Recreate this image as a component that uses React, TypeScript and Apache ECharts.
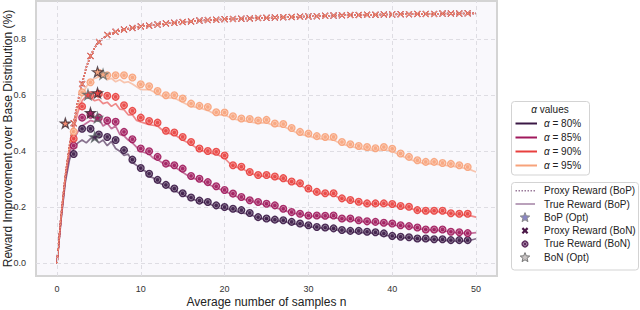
import React, { useEffect, useRef } from "react";
import * as echarts from "echarts";

const alphaNames = ["α = 80%", "α = 85%", "α = 90%", "α = 95%"];
const alphaColors = ["#3a1845", "#a0195c", "#e8403e", "#f7a27a"];

// n values for Best-of-N markers
const bonN = [
  2, 3, 4, 5, 6, 7, 8, 9, 10, 11,
  12, 13, 14, 15, 16, 17, 18, 19, 20, 21,
  22, 23, 24, 25, 26, 27, 28, 29, 30, 31,
  32, 33, 34, 35, 36, 37, 38, 39, 40, 41,
  42, 43, 44, 45, 46, 47, 48, 49,
];

// Proxy reward (BoN), shared by all alphas
const proxyBoN = [
  0.50, 0.64, 0.74, 0.79, 0.815, 0.826, 0.834, 0.84, 0.845, 0.848,
  0.852, 0.856, 0.858, 0.861, 0.863, 0.866, 0.868, 0.869, 0.871, 0.872,
  0.873, 0.874, 0.875, 0.876, 0.877, 0.878, 0.879, 0.88, 0.881, 0.882,
  0.883, 0.884, 0.885, 0.886, 0.886, 0.887, 0.887, 0.888, 0.888, 0.889,
  0.889, 0.89, 0.89, 0.89, 0.891, 0.891, 0.891, 0.892,
];

// Proxy reward (BoP) line [n, value]
const proxyBoP = [
  [0, 0], [0.5, 0.17], [1, 0.31], [1.5, 0.42], [2, 0.5], [2.5, 0.58], [3, 0.64], [3.5, 0.7], [4, 0.74], [4.5, 0.77],
  [5, 0.79], [6, 0.815], [7, 0.826], [8, 0.834], [9, 0.84], [10, 0.845], [11, 0.848], [12, 0.852], [13, 0.856], [14, 0.858],
  [15, 0.861], [16, 0.863], [17, 0.866], [18, 0.868], [19, 0.869], [20, 0.871], [21, 0.872], [22, 0.873], [23, 0.874], [24, 0.875],
  [25, 0.876], [26, 0.877], [27, 0.878], [28, 0.879], [29, 0.88], [30, 0.881], [31, 0.882], [32, 0.883], [33, 0.884], [34, 0.885],
  [35, 0.886], [36, 0.886], [37, 0.887], [38, 0.887], [39, 0.888], [40, 0.888], [41, 0.889], [42, 0.889], [43, 0.89], [44, 0.89],
  [45, 0.89], [46, 0.891], [47, 0.891], [48, 0.891], [49, 0.892], [50, 0.892],
];

// True reward (BoN) per alpha, at bonN
const trueBoN80 = [
  0.39, 0.48, 0.48, 0.46, 0.451, 0.44, 0.404, 0.37, 0.34, 0.32,
  0.298, 0.28, 0.267, 0.25, 0.235, 0.224, 0.219, 0.207, 0.201, 0.195,
  0.19, 0.18, 0.165, 0.16, 0.156, 0.154, 0.148, 0.142, 0.136, 0.13,
  0.128, 0.125, 0.119, 0.116, 0.116, 0.113, 0.111, 0.107, 0.098, 0.095,
  0.093, 0.089, 0.089, 0.086, 0.086, 0.083, 0.083, 0.083,
];
const trueBoN85 = [
  0.42, 0.52, 0.53, 0.52, 0.51, 0.505, 0.469, 0.443, 0.41, 0.40,
  0.38, 0.356, 0.35, 0.338, 0.312, 0.302, 0.29, 0.275, 0.262, 0.249,
  0.237, 0.225, 0.219, 0.213, 0.207, 0.195, 0.183, 0.177, 0.171, 0.171,
  0.17, 0.171, 0.16, 0.16, 0.154, 0.15, 0.148, 0.145, 0.142, 0.136,
  0.133, 0.128, 0.121, 0.121, 0.121, 0.113, 0.111, 0.108,
];
const trueBoN90 = [
  0.445, 0.56, 0.60, 0.605, 0.598, 0.594, 0.564, 0.544, 0.52, 0.508,
  0.502, 0.473, 0.467, 0.451, 0.433, 0.41, 0.401, 0.398, 0.385, 0.35,
  0.345, 0.326, 0.315, 0.315, 0.31, 0.304, 0.292, 0.286, 0.267, 0.255,
  0.25, 0.25, 0.232, 0.226, 0.22, 0.214, 0.214, 0.214, 0.212, 0.205,
  0.202, 0.19, 0.188, 0.188, 0.188, 0.179, 0.177, 0.177,
];
const trueBoN95 = [
  0.47, 0.61, 0.646, 0.68, 0.671, 0.671, 0.671, 0.663, 0.639, 0.632,
  0.615, 0.6, 0.6, 0.588, 0.57, 0.562, 0.558, 0.539, 0.538, 0.525,
  0.517, 0.515, 0.51, 0.512, 0.499, 0.497, 0.483, 0.469, 0.463, 0.454,
  0.451, 0.451, 0.433, 0.425, 0.419, 0.415, 0.411, 0.415, 0.409, 0.392,
  0.38, 0.368, 0.362, 0.362, 0.358, 0.355, 0.35, 0.344,
];

// True reward (BoP) lines [n, value]
const trueBoP80 = [
  [0, 0], [0.5, 0.16], [1, 0.29], [1.5, 0.37], [2, 0.41], [2.5, 0.43], [3, 0.44], [3.5, 0.43], [4, 0.445], [4.5, 0.451],
  [5, 0.43], [5.5, 0.44], [6, 0.42], [6.5, 0.435], [7, 0.41], [7.5, 0.4], [8, 0.385], [8.5, 0.39], [9, 0.36], [9.5, 0.35],
  [10, 0.335], [10.5, 0.33], [11, 0.31], [11.5, 0.305], [12, 0.29], [13, 0.275], [14, 0.26], [15, 0.245], [16, 0.232], [17, 0.22],
  [18, 0.215], [19, 0.2], [20, 0.196], [21, 0.19], [22, 0.18], [23, 0.176], [24, 0.16], [25, 0.158], [26, 0.15], [27, 0.152],
  [28, 0.14], [29, 0.14], [30, 0.13], [31, 0.128], [32, 0.124], [33, 0.122], [34, 0.114], [35, 0.113], [36, 0.11], [37, 0.11],
  [38, 0.106], [39, 0.102], [40, 0.096], [41, 0.092], [42, 0.09], [43, 0.087], [44, 0.085], [45, 0.084], [46, 0.082], [47, 0.08],
  [48, 0.079], [49, 0.08], [50, 0.088],
];
const trueBoP85 = [
  [0, 0], [0.5, 0.16], [1, 0.3], [1.5, 0.39], [2, 0.44], [2.5, 0.47], [3, 0.49], [3.5, 0.5], [4, 0.51], [4.5, 0.505],
  [5, 0.52], [5.5, 0.49], [6, 0.5], [6.5, 0.48], [7, 0.49], [7.5, 0.46], [8, 0.455], [8.5, 0.44], [9, 0.43], [9.5, 0.415],
  [10, 0.4], [10.5, 0.395], [11, 0.39], [11.5, 0.375], [12, 0.37], [13, 0.35], [14, 0.345], [15, 0.325], [16, 0.305], [17, 0.298],
  [18, 0.282], [19, 0.27], [20, 0.257], [21, 0.245], [22, 0.23], [23, 0.225], [24, 0.212], [25, 0.21], [26, 0.2], [27, 0.19],
  [28, 0.18], [29, 0.175], [30, 0.168], [31, 0.168], [32, 0.164], [33, 0.166], [34, 0.155], [35, 0.157], [36, 0.15], [37, 0.147],
  [38, 0.144], [39, 0.142], [40, 0.138], [41, 0.133], [42, 0.13], [43, 0.125], [44, 0.12], [45, 0.118], [46, 0.117], [47, 0.112],
  [48, 0.108], [49, 0.106], [50, 0.11],
];
const trueBoP90 = [
  [0, 0], [0.5, 0.17], [1, 0.31], [1.5, 0.41], [2, 0.48], [2.5, 0.54], [3, 0.58], [3.5, 0.598], [3.7, 0.602], [4, 0.59],
  [4.5, 0.58], [5, 0.585], [5.5, 0.57], [6, 0.575], [6.5, 0.56], [7, 0.57], [7.5, 0.55], [8, 0.548], [8.5, 0.53], [9, 0.53],
  [9.5, 0.51], [10, 0.505], [11, 0.495], [12, 0.49], [13, 0.465], [14, 0.46], [15, 0.44], [16, 0.425], [17, 0.405], [18, 0.395],
  [19, 0.39], [20, 0.375], [21, 0.345], [22, 0.34], [23, 0.322], [24, 0.312], [25, 0.31], [26, 0.305], [27, 0.298], [28, 0.288],
  [29, 0.28], [30, 0.262], [31, 0.252], [32, 0.246], [33, 0.245], [34, 0.228], [35, 0.222], [36, 0.218], [37, 0.21], [38, 0.212],
  [39, 0.21], [40, 0.208], [41, 0.2], [42, 0.198], [43, 0.188], [44, 0.185], [45, 0.185], [46, 0.183], [47, 0.176], [48, 0.174],
  [49, 0.172], [50, 0.165],
];
const trueBoP95 = [
  [0, 0], [0.5, 0.17], [1, 0.31], [1.5, 0.42], [2, 0.5], [2.5, 0.56], [3, 0.6], [3.5, 0.63], [4, 0.65], [4.5, 0.66],
  [5, 0.665], [5.5, 0.675], [6, 0.655], [6.5, 0.66], [7, 0.648], [7.5, 0.655], [8, 0.645], [8.5, 0.648], [9, 0.64], [9.5, 0.63],
  [10, 0.62], [11, 0.62], [12, 0.605], [13, 0.59], [14, 0.59], [15, 0.575], [16, 0.56], [17, 0.555], [18, 0.545], [19, 0.53],
  [20, 0.53], [21, 0.515], [22, 0.51], [23, 0.505], [24, 0.5], [25, 0.502], [26, 0.49], [27, 0.488], [28, 0.475], [29, 0.46],
  [30, 0.455], [31, 0.445], [32, 0.443], [33, 0.44], [34, 0.425], [35, 0.418], [36, 0.41], [37, 0.405], [38, 0.402], [39, 0.405],
  [40, 0.4], [41, 0.385], [42, 0.372], [43, 0.362], [44, 0.355], [45, 0.355], [46, 0.35], [47, 0.348], [48, 0.342], [49, 0.338],
  [50, 0.326],
];

// Optimal points (stars)
const bopOptN = [4.5, 4.84, 3.7, 5.5];
const bopOptV = [0.451, 0.52, 0.602, 0.675];
const bonOptN = [1, 4, 4.84, 4.84];
const bonOptV = [0.5, 0.537, 0.608, 0.683];
const bonOptColors = ["#f0704f", "#a0195c", "#e8403e", "#f7a27a"];

const xTicks = [0, 10, 20, 30, 40, 50];
const yTicks = [0, 0.2, 0.4, 0.6, 0.8];

const trueBoN = [trueBoN80, trueBoN85, trueBoN90, trueBoN95];
const trueBoP = [trueBoP80, trueBoP85, trueBoP90, trueBoP95];

const STAR =
  "path://M50,0L61.2,34.5L97.6,34.5L68.2,55.9L79.4,90.5L50,69.1L20.6,90.5L31.8,55.9L2.4,34.5L38.8,34.5Z";
const XMARK = "path://M1,0L5,4L9,0L10,1L6,5L10,9L9,10L5,6L1,10L0,9L4,5L0,1Z";
const FONT = "Liberation Sans, Arial, Helvetica, sans-serif";

function starPoints(cx: number, cy: number, R: number, r: number) {
  const pts: number[][] = [];
  for (let i = 0; i < 10; i++) {
    const rad = i % 2 === 0 ? R : r;
    const a = -Math.PI / 2 + (i * Math.PI) / 5;
    pts.push([cx + rad * Math.cos(a), cy + rad * Math.sin(a)]);
  }
  return pts;
}

export default function App() {
  const ref = useRef<HTMLDivElement>(null);
  useEffect(() => {
    if (!ref.current) return;
    const chart = echarts.init(ref.current, undefined, { renderer: "svg" });
    const series: any[] = [];

    // grid lines
    series.push({
      type: "line",
      data: [],
      silent: true,
      z: 0,
      markLine: {
        silent: true,
        symbol: "none",
        label: { show: false },
        lineStyle: { color: "#dedde3", type: [4, 3], width: 1 },
        data: [
          ...xTicks.map((v) => ({ xAxis: v })),
          ...yTicks.map((v) => ({ yAxis: v })),
        ],
      },
    });

    for (let i = 0; i < 4; i++) {
      const c = alphaColors[i];
      series.push({
        type: "line",
        name: "true BoP " + alphaNames[i],
        data: trueBoP[i],
        showSymbol: false,
        lineStyle: { color: c, width: 1.7, opacity: 0.6 },
        z: 2,
      });
    }
    for (let i = 0; i < 4; i++) {
      const c = alphaColors[i];
      series.push({
        type: "line",
        name: "proxy BoP " + alphaNames[i],
        data: proxyBoP,
        showSymbol: false,
        lineStyle: { color: c, width: 1.6, type: "dotted", opacity: 0.85 },
        z: 3,
      });
    }
    for (let i = 0; i < 4; i++) {
      const c = alphaColors[i];
      series.push({
        type: "scatter",
        name: "proxy BoN " + alphaNames[i],
        data: bonN.map((n, k) => [n, proxyBoN[k]]),
        symbol: XMARK,
        symbolSize: 6.5,
        itemStyle: { color: c, opacity: 0.85 },
        z: 4,
      });
    }
    for (let i = 0; i < 4; i++) {
      const c = alphaColors[i];
      const d = bonN.map((n, k) => [n, trueBoN[i][k]]);
      series.push({
        type: "scatter",
        name: "true BoN " + alphaNames[i],
        data: d,
        symbol: "circle",
        symbolSize: 8,
        itemStyle: { color: c, opacity: 0.92 },
        z: 5,
      });
      series.push({
        type: "scatter",
        name: "true BoN ring " + alphaNames[i],
        data: d,
        symbol: "circle",
        symbolSize: 4.5,
        itemStyle: {
          color: "rgba(0,0,0,0)",
          borderColor: "rgba(255,255,255,0.55)",
          borderWidth: 0.9,
        },
        z: 6,
      });
    }
    series.push({
      type: "scatter",
      name: "BoP opt",
      data: bopOptN.map((n, k) => ({
        value: [n, bopOptV[k]],
        itemStyle: { color: alphaColors[k] },
      })),
      symbol: STAR,
      symbolSize: 10,
      itemStyle: { borderColor: "#5f6b6a", borderWidth: 1.2 },
      z: 7,
    });
    series.push({
      type: "scatter",
      name: "BoN opt",
      data: bonOptN.map((n, k) => ({
        value: [n, bonOptV[k]],
        itemStyle: { color: bonOptColors[k] },
      })),
      symbol: STAR,
      symbolSize: 10,
      itemStyle: { borderColor: "#3a2a33", borderWidth: 1.2 },
      z: 7,
    });

    // legends drawn as graphics
    const g: any[] = [];
    g.push({
      type: "rect",
      shape: { x: 511.5, y: 101.5, width: 78, height: 73.5, r: 3 },
      style: { fill: "#ffffff", stroke: "#d3d3d3", lineWidth: 1 },
    });
    g.push({
      type: "text",
      x: 550,
      y: 109.5,
      style: {
        text: "{a|α} values",
        fontSize: 10,
        fontFamily: FONT,
        fill: "#222",
        align: "center",
        verticalAlign: "middle",
        rich: { a: { fontStyle: "italic", fontSize: 10, fontFamily: FONT, fill: "#222" } },
      },
    });
    for (let i = 0; i < 4; i++) {
      const y = 123.5 + i * 14;
      g.push({
        type: "line",
        shape: { x1: 515.5, y1: y, x2: 537, y2: y },
        style: { stroke: alphaColors[i], lineWidth: 2 },
      });
      g.push({
        type: "text",
        x: 544,
        y: y,
        style: {
          text: "{a|α} = " + alphaNames[i].split("= ")[1],
          fontSize: 10,
          fontFamily: FONT,
          fill: "#222",
          align: "left",
          verticalAlign: "middle",
          rich: { a: { fontStyle: "italic", fontSize: 10, fontFamily: FONT, fill: "#222" } },
        },
      });
    }
    g.push({
      type: "rect",
      shape: { x: 511.5, y: 182.5, width: 127, height: 87.5, r: 3 },
      style: { fill: "#ffffff", stroke: "#d3d3d3", lineWidth: 1 },
    });
    const labels2 = [
      "Proxy Reward (BoP)",
      "True Reward (BoP)",
      "BoP (Opt)",
      "Proxy Reward (BoN)",
      "True Reward (BoN)",
      "BoN (Opt)",
    ];
    for (let i = 0; i < 6; i++) {
      const y = 190.7 + i * 13.3;
      g.push({
        type: "text",
        x: 544,
        y: y,
        style: {
          text: labels2[i],
          fontSize: 10,
          fontFamily: FONT,
          fill: "#222",
          align: "left",
          verticalAlign: "middle",
        },
      });
    }
    const cx = 525;
    g.push({
      type: "line",
      shape: { x1: 515.5, y1: 190.7, x2: 535, y2: 190.7 },
      style: { stroke: "#9a7a9a", lineWidth: 1.6, lineDash: [1.5, 1.5] },
    });
    g.push({
      type: "line",
      shape: { x1: 515.5, y1: 204, x2: 535, y2: 204 },
      style: { stroke: "#a98aaa", lineWidth: 1.6 },
    });
    g.push({
      type: "polygon",
      shape: { points: starPoints(cx, 217.6, 5, 2.2) },
      style: { fill: "#8a86c4", stroke: "#8a8a8a", lineWidth: 1 },
    });
    g.push({
      type: "line",
      shape: { x1: cx - 2.6, y1: 228.1, x2: cx + 2.6, y2: 233.3 },
      style: { stroke: "#4b1848", lineWidth: 2.2 },
    });
    g.push({
      type: "line",
      shape: { x1: cx - 2.6, y1: 233.3, x2: cx + 2.6, y2: 228.1 },
      style: { stroke: "#4b1848", lineWidth: 2.2 },
    });
    g.push({
      type: "circle",
      shape: { cx: cx, cy: 244, r: 3.6 },
      style: { fill: "#5c2a5c" },
    });
    g.push({
      type: "circle",
      shape: { cx: cx, cy: 244, r: 1.8 },
      style: { fill: "none", stroke: "#b89ab8", lineWidth: 0.9 },
    });
    g.push({
      type: "polygon",
      shape: { points: starPoints(cx, 257.6, 5, 2.2) },
      style: { fill: "#c9c4c4", stroke: "#777", lineWidth: 1 },
    });

    chart.setOption({
      animation: false,
      textStyle: { fontFamily: FONT },
      grid: {
        left: 36,
        top: 1,
        width: 461,
        height: 275,
        outerBoundsMode: "none",
        containLabel: false,
        show: true,
        backgroundColor: "#f9f8fc",
        borderColor: "#d4d4d4",
        borderWidth: 2,
      },
      xAxis: {
        type: "value",
        min: -2.5,
        max: 52.5,
        splitNumber: 5,
        name: "Average number of samples n",
        nameLocation: "middle",
        nameGap: 20,
        nameMoveOverlap: false,
        nameTextStyle: { fontSize: 12, color: "#222", fontFamily: FONT },
        axisLine: { show: false },
        axisTick: { show: false },
        splitLine: { show: false },
        axisLabel: {
          fontSize: 9,
          color: "#333",
          margin: 8,
          showMinLabel: false,
          showMaxLabel: false,
          fontFamily: FONT,
        },
      },
      yAxis: {
        type: "value",
        min: -0.045,
        max: 0.936,
        splitNumber: 5,
        name: "Reward Improvement over Base Distribution (%)",
        nameLocation: "middle",
        nameGap: 22,
        nameMoveOverlap: false,
        nameTextStyle: { fontSize: 12, color: "#222", fontFamily: FONT },
        axisLine: { show: false },
        axisTick: { show: false },
        splitLine: { show: false },
        axisLabel: {
          fontSize: 9,
          color: "#333",
          margin: 10,
          showMinLabel: false,
          showMaxLabel: false,
          fontFamily: FONT,
          formatter: (v: number) => v.toFixed(1),
        },
      },
      series,
      graphic: g,
    });
    return () => chart.dispose();
  }, []);
  return (
    <div
      ref={ref}
      style={{ position: "absolute", left: 0, top: 0, width: 640, height: 310, background: "#fff" }}
    />
  );
}
